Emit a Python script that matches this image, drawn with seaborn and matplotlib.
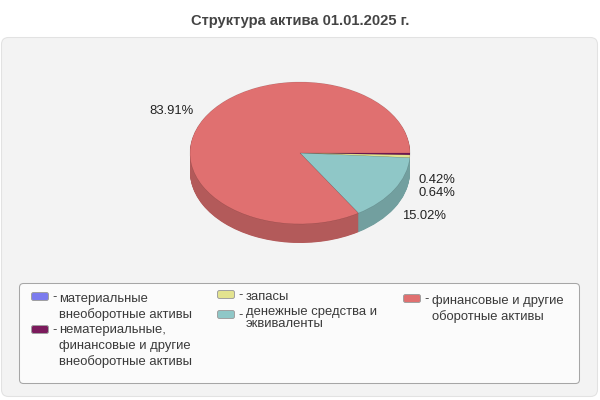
import matplotlib
matplotlib.use("Agg")
import matplotlib.pyplot as plt
from matplotlib.patches import FancyBboxPatch
import seaborn as sns

sns.set_theme(style="white")
plt.rcParams['font.family'] = ['Liberation Sans', 'DejaVu Sans']

title = "Структура актива 01.01.2025 г."
categories = ["материальные\nвнеоборотные активы",
              "нематериальные,\nфинансовые и другие\nвнеоборотные активы",
              "запасы",
              "денежные средства и\nэквиваленты",
              "финансовые и другие\nоборотные активы"]
values = [0.01, 0.42, 0.64, 15.02, 83.91]
value_labels = ["0.42%", "0.64%", "15.02%", "83.91%"]
top_colors = ["#7b7bee", "#7b1a5c", "#e3e38f", "#8fc7c7", "#e07070"]
side_colors = ["#6262be", "#621549", "#b5b572", "#729f9f", "#b35a5a"]

W, H = 600, 400
fig = plt.figure(figsize=(W / 100, H / 100), dpi=100, facecolor="white")
bg = fig.add_axes([0, 0, 1, 1])
bg.set_xlim(0, W)
bg.set_ylim(H, 0)
bg.axis("off")

bg.add_patch(FancyBboxPatch((1.5, 37.5), 596, 359, boxstyle="round,pad=0,rounding_size=7",
                            fc="#f3f3f3", ec="#e2e2e2", lw=0.75))
bg.add_patch(FancyBboxPatch((19.5, 283.5), 560, 100, boxstyle="round,pad=0,rounding_size=4",
                            fc="#fbfbfb", ec="#a6a6a6", lw=0.75))
bg.text(300, 21, title, ha="center", va="center", fontsize=10.6, fontweight="bold", color="#444444")

# pie axes: centre (300,153), radii 110 x 71, wall depth 19 px
cx, cy, rx, ry, depth = 300, 153, 110, 71, 19
ax = fig.add_axes([(cx - rx) / W, 1 - (cy + ry) / H, 2 * rx / W, 2 * ry / H])
pal = sns.color_palette(side_colors)
for k in range(depth * 2, 0, -1):
    ax.pie(values, colors=pal, startangle=0, counterclock=False,
           center=(0, -k / 2 / ry), radius=1,
           wedgeprops={"clip_on": False, "linewidth": 0})
ax.pie(values, colors=sns.color_palette(top_colors), startangle=0, counterclock=False,
       center=(0, 0), radius=1,
       wedgeprops={"clip_on": False, "linewidth": 0.3, "edgecolor": "#00000033"})
ax.set_aspect("auto")
ax.set_xlim(-1, 1)
ax.set_ylim(-1, 1)
ax.patch.set_alpha(0)

tc = "#222222"
for s, (x, y) in zip(value_labels, [(418.5, 180), (418.5, 192.5), (402.5, 216), (149.5, 110.5)]):
    bg.text(x, y, s, ha="left", va="center", fontsize=9.4, color=tc)

lc = "#3a3a3a"
layout = [
    (31, 293, 59, [299, 315]),
    (31, 326, 59, [330, 346, 361.5]),
    (217, 291, 246, [297]),
    (217, 311, 246, [312, 324]),
    (403, 295, 432, [301, 317]),
]
for (sx, sy, tx, ys), name, col in zip(layout, categories, top_colors):
    bg.add_patch(FancyBboxPatch((sx + .5, sy - .5), 17, 8, boxstyle="round,pad=0,rounding_size=2",
                                fc=col, ec="#a0a0a0", lw=0.7))
    bg.text(sx + 21, sy + 4, "-", ha="left", va="center", fontsize=9.4, color=lc)
    for line, y in zip(name.split("\n"), ys):
        bg.text(tx, y, line, ha="left", va="center", fontsize=9.4, color=lc)

fig.savefig("out.png", dpi=100)
